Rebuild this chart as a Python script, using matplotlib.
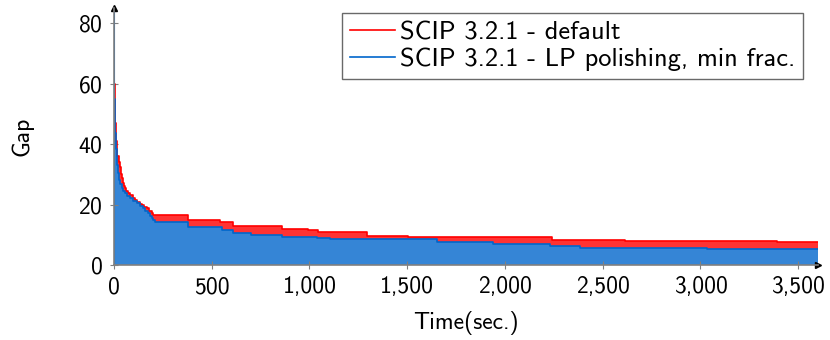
import numpy as np
import matplotlib.pyplot as plt
from matplotlib.ticker import FuncFormatter

plt.rcParams['font.family'] = ['cmss10', 'DejaVu Sans']
plt.rcParams['axes.formatter.use_mathtext'] = True

# gap over time, step data
t_default = [0, 1, 2, 4, 6, 8, 11, 14, 18, 24, 31, 35, 39, 45, 50, 56, 64, 73, 82,
             95, 107, 120, 131, 141, 154, 167, 180, 193, 200, 378, 542, 609, 860,
             993, 1044, 1105, 1295, 1505, 2242, 2615, 3393, 3600]
gap_default = [84, 70, 60, 52, 47, 44, 41, 39, 36, 34, 32.4, 30, 28.7, 27, 26.2,
               25.4, 24.6, 23.8, 23, 22.2, 21.5, 20.8, 20.3, 19.8, 19.3, 18.8, 18,
               17.2, 16.5, 15, 14.3, 12.9, 12, 11.5, 11, 10.9, 9.7, 9.1, 8.25, 8.0,
               7.7, 7.7]

t_polish = [0, 1, 2, 3, 5, 8, 11, 14, 18, 22, 27, 33, 39, 47, 56, 68, 82, 98, 116,
            132, 148, 161, 174, 184, 193, 202, 210, 378, 553, 609, 700, 860, 1039,
            1105, 1653, 1940, 2231, 2385, 3035, 3600]
gap_polish = [84, 65, 55, 48, 43.5, 40, 38.5, 37, 33, 30.4, 28, 26.8, 25.4, 24.6,
              23.8, 22.9, 22, 21.2, 20.5, 19.6, 18.8, 18, 17.2, 16.3, 15.5, 14.8,
              14.2, 12.6, 11.5, 10.5, 9.8, 9.3, 8.9, 8.5, 7.7, 6.9, 6.3, 5.7, 5.3, 5.3]

fig = plt.figure(figsize=(8.3, 3.4), dpi=100)
ax = fig.add_axes([0.1373, 0.2206, 0.848, 0.756])

ax.fill_between(t_default, gap_default, step='post', color='#ff3333', lw=0)
ax.step(t_default, gap_default, where='post', color='#ff0000', lw=1.2,
        label='SCIP 3.2.1 - default')
ax.fill_between(t_polish, gap_polish, step='post', color='#3585d6', lw=0)
ax.step(t_polish, gap_polish, where='post', color='#0066cc', lw=1.2,
        label='SCIP 3.2.1 - LP polishing, min frac.')
ax.plot([0, 0], [0, gap_polish[0]], color='#0066cc', lw=1.5)

ax.set_xlim(0, 3600)
ax.set_ylim(0, 85)
ax.set_xticks([0, 500, 1000, 1500, 2000, 2500, 3000, 3500])
ax.set_yticks([0, 20, 40, 60, 80])
ax.xaxis.set_major_formatter(FuncFormatter(lambda v, p: f'{v:,.0f}'))
ax.tick_params(direction='inout', length=6, width=0.8, color='#808080',
               labelsize=17, pad=5)

for s in ['top', 'right']:
    ax.spines[s].set_visible(False)
for s in ['left', 'bottom']:
    ax.spines[s].set_color('#808080')
    ax.spines[s].set_linewidth(1.2)

ax.plot(0, 1, marker='^', color='black', ms=5, transform=ax.transAxes, clip_on=False)
ax.plot(1, 0, marker='>', color='black', ms=5, transform=ax.transAxes, clip_on=False)

ax.set_xlabel('Time(sec.)', fontsize=17)
ax.xaxis.set_label_coords(0.5, -0.18)
ax.set_ylabel('Gap', fontsize=17)
ax.yaxis.set_label_coords(-0.115, 0.5)

leg = ax.legend(loc='upper right', bbox_to_anchor=(0.979, 0.98), borderaxespad=0,
                fontsize=19, frameon=True, fancybox=False, edgecolor='#444444',
                handlelength=1.7, handletextpad=0.2, borderpad=0.3, labelspacing=0.12)
leg.get_frame().set_linewidth(1.0)

fig.savefig('out.png', dpi=100)
